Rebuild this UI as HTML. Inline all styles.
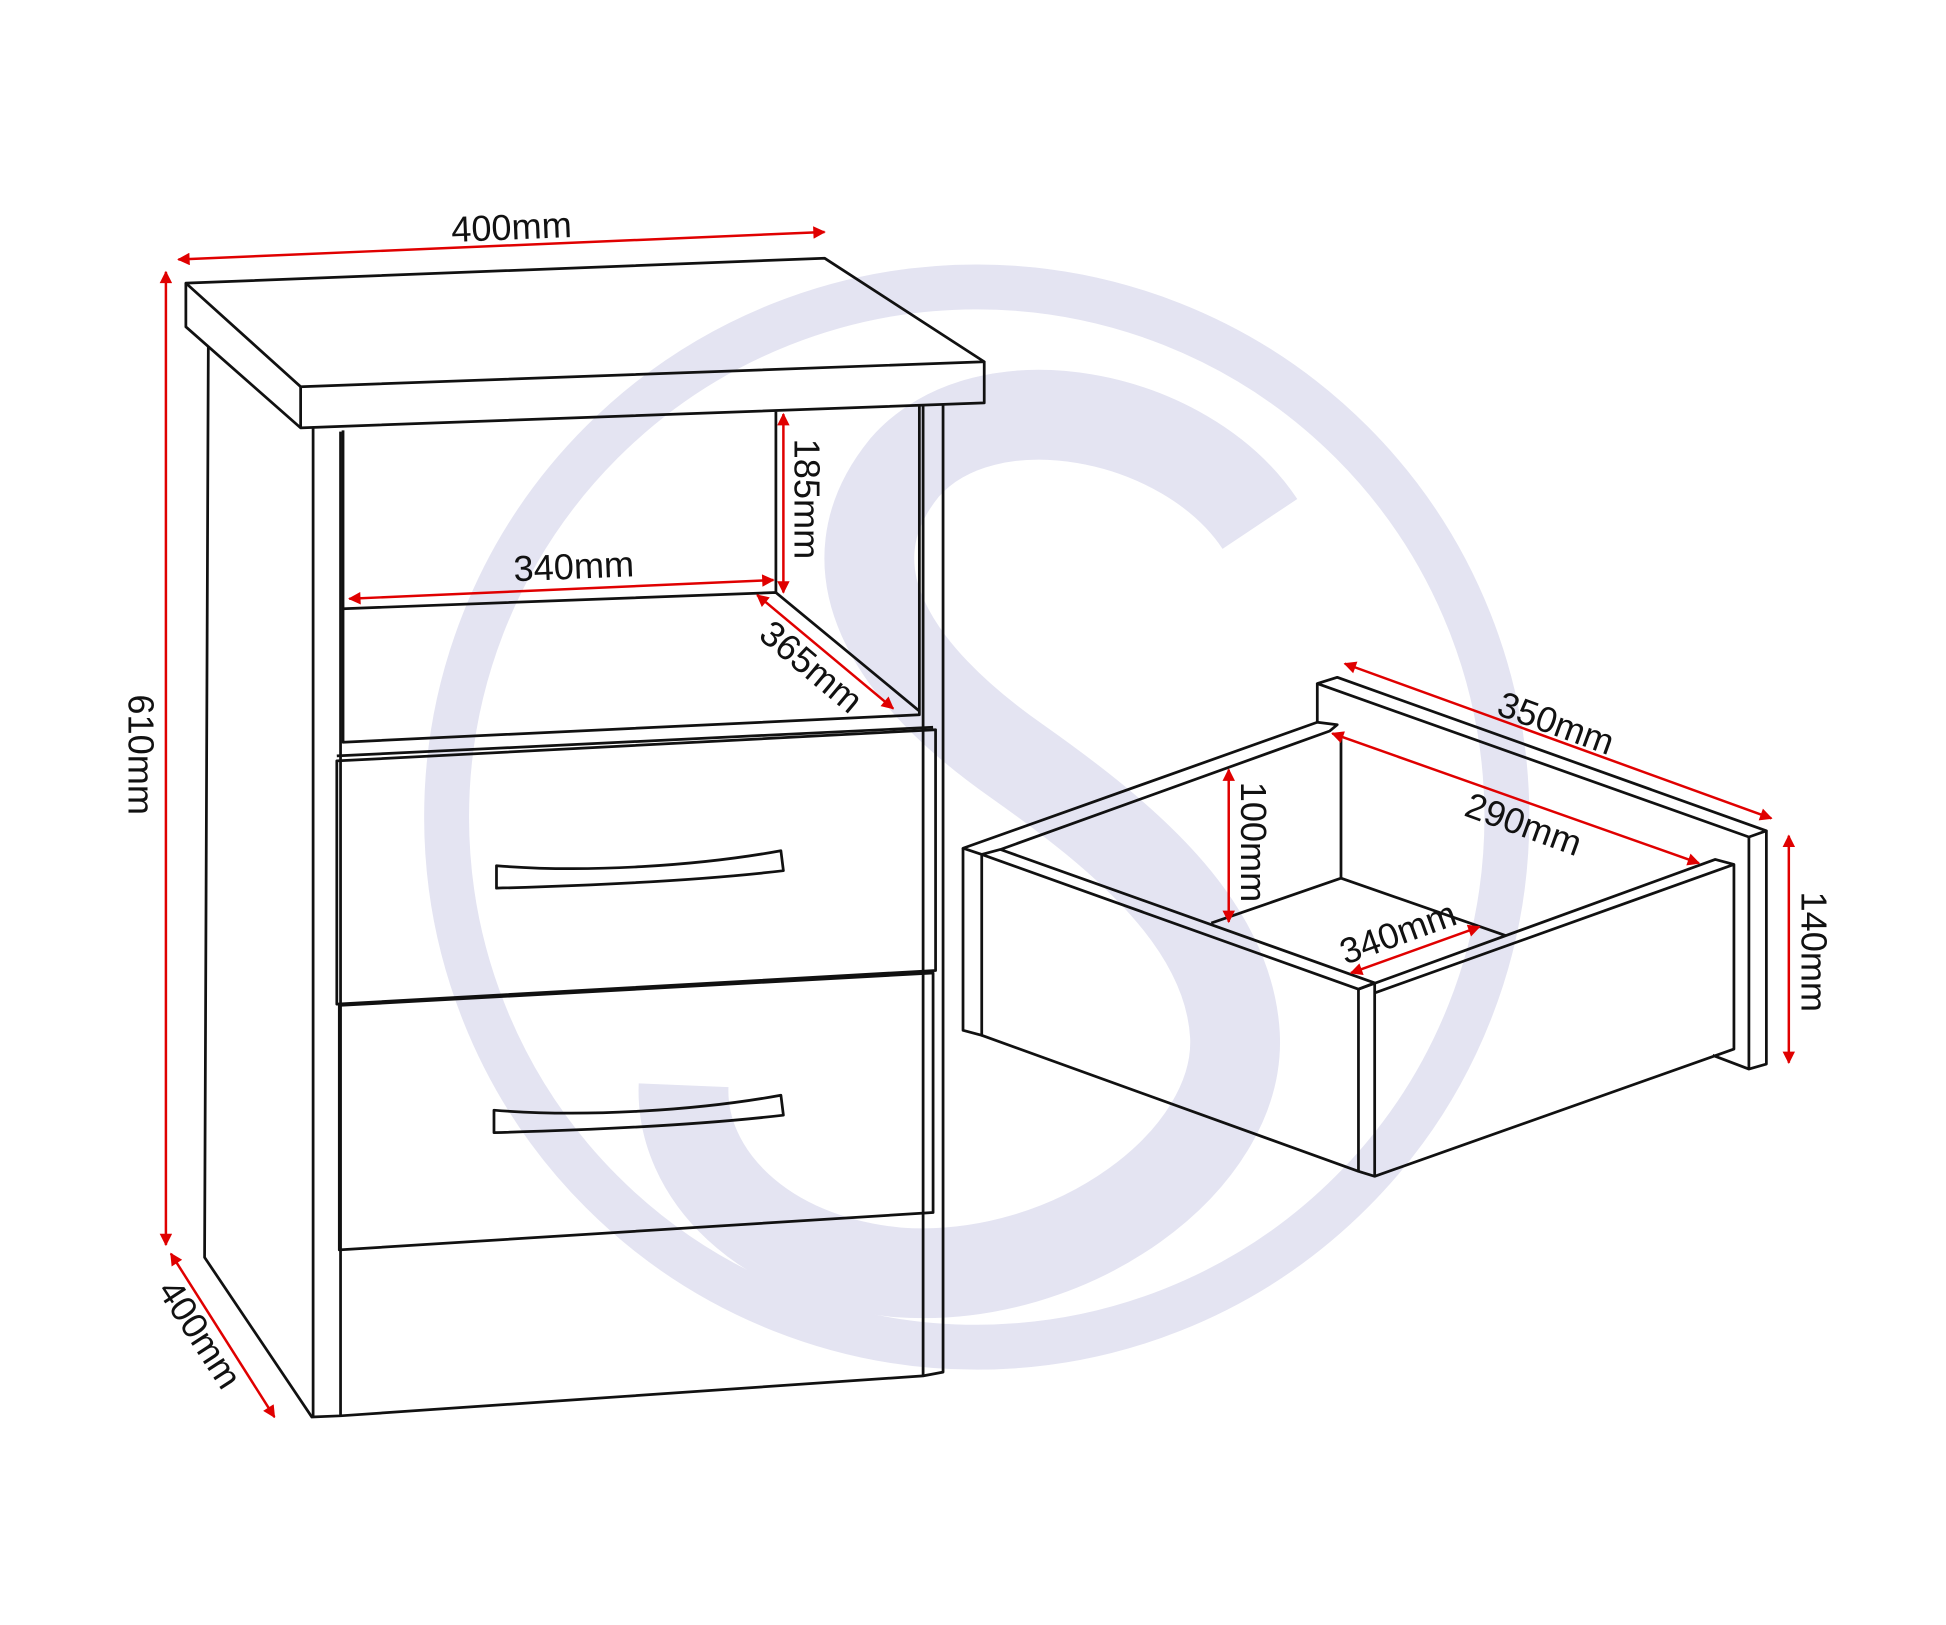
<!DOCTYPE html>
<html><head><meta charset="utf-8"><style>
html,body{margin:0;padding:0;background:#fff;}
svg{display:block;}
text{font-family:"Liberation Sans",sans-serif;font-size:29px;fill:#111;}
</style></head><body>
<svg width="1946" height="1625" viewBox="0 0 1560 1302.7" preserveAspectRatio="none" xmlns="http://www.w3.org/2000/svg">
<defs>
<marker id="a" viewBox="0 0 10 10" refX="9" refY="5" markerWidth="13" markerHeight="10" orient="auto-start-reverse" markerUnits="userSpaceOnUse"><path d="M0,0 L10,5 L0,10 z" fill="#e00000"/></marker>
</defs>
<g fill="none" stroke="#e4e4f2">
<ellipse cx="783" cy="655" rx="425" ry="425" stroke-width="36"/>
<path d="M1010,420 C950,330 790,300 725,375 C660,455 715,540 815,610 C900,670 985,740 990,830 C995,930 860,1030 720,1020 C610,1010 545,940 548,870" stroke-width="72"/>
</g>
<g fill="none" stroke="#111" stroke-width="2.2" stroke-linejoin="round">
<path d="M149,227 L661,207 L789,290 L241,310 Z"/>
<path d="M149,227 L149,262 L241,343 L789,323 L789,290"/>
<path d="M241,310 L241,343"/>
<path d="M167,278 L164,1008 L250,1136 L273,1135 L740,1103 L756,1100 L756,325"/>
<path d="M251,343 L251,1136"/>
<path d="M273,346 L273,1135"/>
<path d="M740,325 L740,1103"/>
<path d="M275,345 L275,595 L737,573 L737,325"/>
<path d="M275,488 L622,475 L737,570"/>
<path d="M622,330 L622,475"/>
<path d="M270,610 L270,805 L750,778 L750,585 Z"/>
<path d="M270,606 L748,583"/>
<path d="M272,806 L272,1002 L748,972 L748,780 Z"/>
<path d="M398,694 C470,700 560,694 626,682 L628,698 C560,706 470,710 398,712 Z"/>
<path d="M396,890 C470,896 560,890 626,878 L628,894 C560,902 470,906 396,908 Z"/>
<path d="M1056,548 L1072,543 L1416,666 L1402,671 Z"/>
<path d="M1056,548 L1056,579"/>
<path d="M1416,666 L1416,853 L1402,857 L1402,671"/>
<path d="M1402,857 L1373,846"/>
<path d="M772,680 L1056,579 L1072,581 L1066,586 L802,681 L787,685 Z"/>
<path d="M787,685 L1089,793 L1102,788 L802,681"/>
<path d="M772,680 L772,826 L787,830 L787,685"/>
<path d="M787,830 L1089,939 L1102,943 L1390,841 L1390,693 L1375,689 L1089,793"/>
<path d="M1102,796 L1390,693"/>
<path d="M1089,793 L1089,939"/>
<path d="M1102,788 L1102,943"/>
<path d="M1075,587 L1075,704 L971,740"/>
<path d="M1075,704 L1207,750"/>
</g>
<g stroke="#e00000" stroke-width="2" fill="none" marker-start="url(#a)" marker-end="url(#a)">
<line x1="143" y1="208" x2="661" y2="186"/>
<line x1="133" y1="218" x2="133" y2="998"/>
<line x1="137" y1="1005" x2="220" y2="1136"/>
<line x1="628" y1="332" x2="628" y2="475"/>
<line x1="280" y1="480" x2="620" y2="465"/>
<line x1="607" y1="477" x2="716" y2="568"/>
<line x1="1078" y1="532" x2="1420" y2="656"/>
<line x1="1068" y1="588" x2="1362" y2="692"/>
<line x1="985" y1="617" x2="985" y2="739"/>
<line x1="1083" y1="780" x2="1186" y2="743"/>
<line x1="1434" y1="670" x2="1434" y2="852"/>
</g>
<text x="410" y="192" text-anchor="middle" transform="rotate(-2.4 410 182)">400mm</text>
<text transform="translate(103,605) rotate(90)" text-anchor="middle">610mm</text>
<text transform="translate(152,1075) rotate(57)" text-anchor="middle">400mm</text>
<text transform="translate(637,400) rotate(90)" text-anchor="middle">185mm</text>
<text x="460" y="464" text-anchor="middle" transform="rotate(-2.4 460 455)">340mm</text>
<text transform="translate(644,542) rotate(40)" text-anchor="middle">365mm</text>
<text transform="translate(1244,589) rotate(20)" text-anchor="middle">350mm</text>
<text transform="translate(1218,670) rotate(20)" text-anchor="middle">290mm</text>
<text transform="translate(995,675) rotate(90)" text-anchor="middle">100mm</text>
<text transform="translate(1124,757) rotate(-20)" text-anchor="middle">340mm</text>
<text transform="translate(1444,763) rotate(90)" text-anchor="middle">140mm</text>
</svg>
</body></html>
